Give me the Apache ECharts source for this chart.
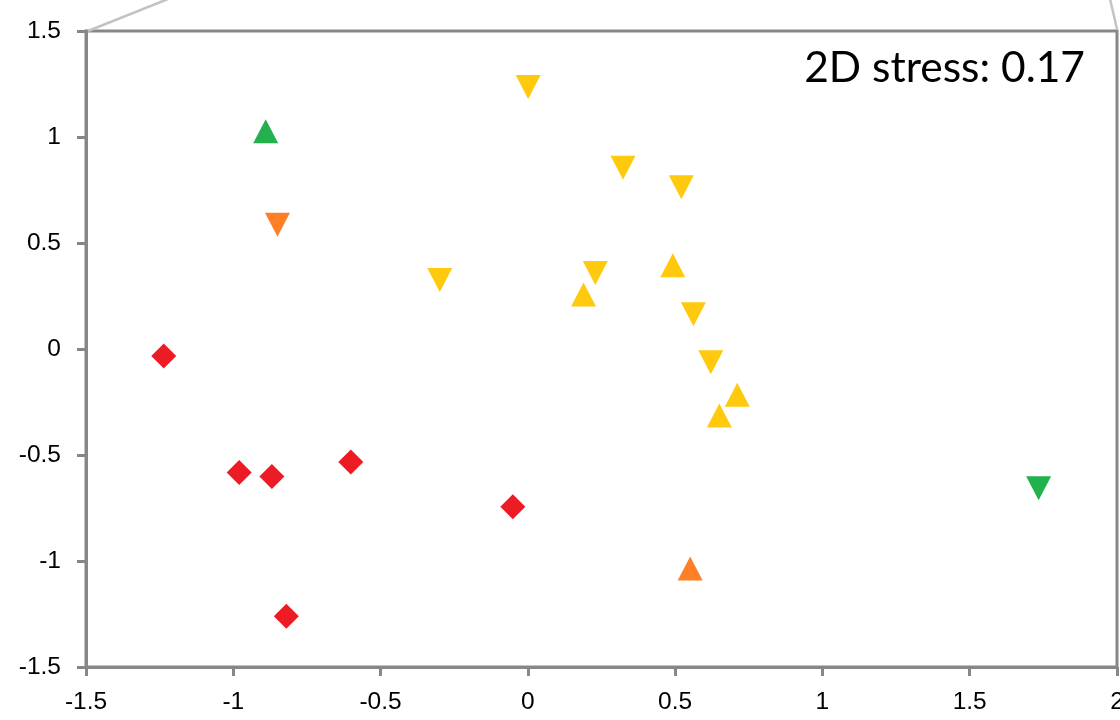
<!DOCTYPE html>
<html>
<head>
<meta charset="utf-8">
<script src="https://cdn.jsdelivr.net/npm/echarts@6/dist/echarts.min.js"></script>
<style>html,body{margin:0;padding:0;background:#fff}#c{width:1120px;height:720px}</style>
</head>
<body>
<div id="c"></div>
<script>
// Data (x, y)
const redDiamonds = [[-1.236,-0.033],[-0.980,-0.583],[-0.869,-0.602],[-0.601,-0.533],[-0.820,-1.261],[-0.051,-0.744]];
const yellowDown = [[0.001,1.236],[0.323,0.855],[0.521,0.763],[-0.299,0.326],[0.229,0.359],[0.562,0.164],[0.621,-0.062]];
const yellowUp = [[0.492,0.395],[0.189,0.257],[0.711,-0.216],[0.650,-0.314]];
const orangeDown = [[-0.850,0.586]];
const orangeUp = [[0.551,-1.035]];
const greenUp = [[-0.890,1.027]];
const greenDown = [[1.734,-0.657]];
const xTicks = {min:-1.5, max:2, interval:0.5};
const yTicks = {min:-1.5, max:1.5, interval:0.5};
const annotation = '2D stress: 0.17';

const chart = echarts.init(document.getElementById('c'));
const axisCol = '#878787';
const labelFont = '"Liberation Sans", Arial, sans-serif';
function ser(data, color, symbol, rotate, size){
  return {type:'scatter', data:data, symbol:symbol, symbolRotate:rotate, symbolSize:size,
    itemStyle:{color:color, opacity:1}, emphasis:{disabled:true}, z:5};
}
chart.setOption({
  animation:false,
  grid:{left:86, top:31, right:3, bottom:53, show:true, borderColor:axisCol, borderWidth:3, backgroundColor:'#fff',
    outerBoundsMode:'none', containLabel:false},
  xAxis:{type:'value', min:xTicks.min, max:xTicks.max, interval:xTicks.interval,
    axisLine:{show:true, onZero:false, lineStyle:{color:axisCol, width:3}},
    axisTick:{show:true, length:9, lineStyle:{color:axisCol, width:3}},
    splitLine:{show:false},
    axisLabel:{color:'#000', fontSize:24.5, fontFamily:labelFont, margin:23, hideOverlap:false,
      formatter:v=>String(+v.toFixed(2))}},
  yAxis:{type:'value', min:yTicks.min, max:yTicks.max, interval:yTicks.interval,
    axisLine:{show:true, onZero:false, lineStyle:{color:axisCol, width:3}},
    axisTick:{show:true, length:9, lineStyle:{color:axisCol, width:3}},
    splitLine:{show:false},
    axisLabel:{color:'#000', fontSize:24.5, fontFamily:labelFont, margin:25,
      formatter:v=>String(+v.toFixed(2))}},
  series:[
    ser(redDiamonds,'#ED1C24','diamond',0,25),
    ser(yellowDown,'#FFC90E','triangle',180,[25,24]),
    ser(yellowUp,'#FFC90E','triangle',0,[25,24]),
    ser(orangeDown,'#FF7F27','triangle',180,[25,24]),
    ser(orangeUp,'#FF7F27','triangle',0,[25,24]),
    ser(greenUp,'#22B14C','triangle',0,[25,24]),
    ser(greenDown,'#22B14C','triangle',180,[25,24])
  ],
  graphic:[
    {type:'line', shape:{x1:88,y1:31,x2:168,y2:-1}, style:{stroke:'#c3c3c3', lineWidth:2.5}, z:1},
    {type:'line', shape:{x1:1110,y1:-1,x2:1117,y2:29}, style:{stroke:'#c3c3c3', lineWidth:2.5}, z:1},
    {type:'text', right:35, top:47, style:{text:annotation, fill:'#000', fontSize:42.5, fontFamily:'Lato, sans-serif'}, z:10}
  ]
});
</script>
</body>
</html>
